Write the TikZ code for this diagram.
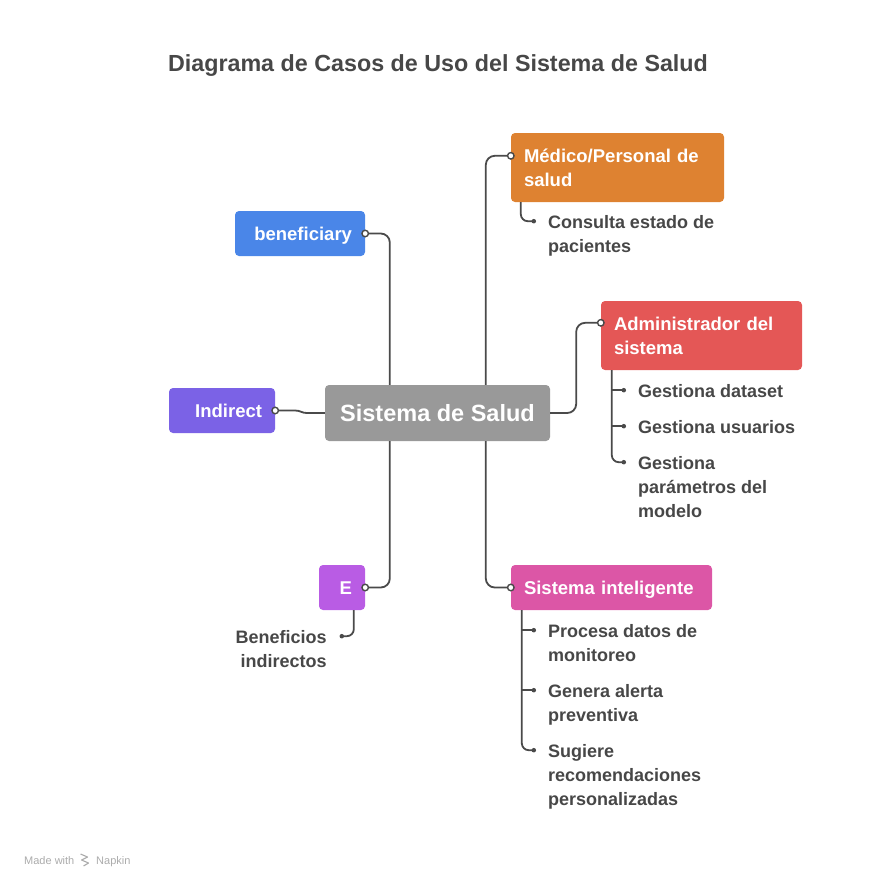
\documentclass[tikz,border=0pt]{standalone}
\usepackage{fontspec}
\setmainfont{Liberation Sans}
\usetikzlibrary{calc,positioning}
\definecolor{txtgray}{HTML}{474747}
\definecolor{linegray}{HTML}{4A4A4A}
\definecolor{footgray}{HTML}{ABABAB}
\definecolor{graybox}{HTML}{999999}
\definecolor{bluebox}{HTML}{4A86E8}
\definecolor{indbox}{HTML}{7B62E6}
\definecolor{ebox}{HTML}{B95CE4}
\definecolor{medbox}{HTML}{DE8231}
\definecolor{admbox}{HTML}{E45756}
\definecolor{intbox}{HTML}{DC56A6}

\begin{document}
\begin{tikzpicture}[x=1pt,y=-1pt,
	box/.style={rounded corners=4pt, text=white, font=\fontsize{18.5}{24}\selectfont\bfseries, inner xsep=13pt, inner ysep=0pt},
	oneline/.style={text height=13pt, text depth=0pt},
	item/.style={text=txtgray, font=\fontsize{18}{24}\selectfont\bfseries, inner sep=0pt},
	link/.style={draw=linegray, line width=1.8pt, rounded corners=9pt},
	port/.style={circle, draw=linegray, fill=white, line width=1.4pt, inner sep=0pt, minimum size=6.5pt},
	dot/.style={circle, fill=linegray, inner sep=0pt, minimum size=4.5pt}]
	\useasboundingbox (0,0) rectangle (876,888);
	
	% Title
	\node[font=\fontsize{23.3}{28}\selectfont\bfseries, text=txtgray] (title) at (438,66) {Diagrama de Casos de Uso del Sistema de Salud};
	
	% Central node
	\node[box, fill=graybox, minimum width=225pt, minimum height=56pt, font=\fontsize{23.5}{28}\selectfont\bfseries] (sys) at (437.5,413) {Sistema de Salud};
	
	% Left actors
	\node[box, oneline, fill=bluebox, minimum height=45pt, text width=104pt, align=right] (benef) at (300,233.5) {beneficiary};
	\node[box, oneline, fill=indbox, minimum height=45pt, text width=80pt, align=right] (ind) at (222,410.5) {Indirect};
	\node[box, oneline, fill=ebox, minimum height=45pt, text width=20pt, align=right] (e) at (342,587.5) {E};
	
	% Right actors
	\node[box, fill=medbox, minimum height=69pt, text width=187pt, align=left] (med) at (617.5,167.5) {M\'edico/Personal de\\salud};
	\node[box, fill=admbox, minimum height=69pt, text width=175pt, align=left] (admin) at (701.5,335.5) {Administrador del\\sistema};
	\node[box, oneline, fill=intbox, minimum height=45pt, text width=175pt, align=left] (intel) at (611.5,587.5) {Sistema inteligente};
	\coordinate (medp) at ($(med.north west)+(0,23)$);
	\coordinate (admp) at ($(admin.north west)+(0,22)$);
	
	% Links from the central node
	\draw[link] (benef.east) -| ($(sys.north west)+(65,0)$);
	\draw[link] (medp) -| ($(sys.north west)+(161,0)$);
	\draw[link, sharp corners] (ind.east) -- ++(20,0) .. controls +(5,0) and +(-5,0) .. ($(sys.west)+(-18,0)$) -- (sys.west);
	\draw[link] (sys.east) -- ++(26,0) |- (admp);
	\draw[link] (e.east) -| ($(sys.south west)+(65,0)$);
	\draw[link] (intel.west) -| ($(sys.south west)+(161,0)$);
	\node[port] at (benef.east) {};
	\node[port] at (medp) {};
	\node[port] at (ind.east) {};
	\node[port] at (admp) {};
	\node[port] at (e.east) {};
	\node[port] at (intel.west) {};
	
	% Medico use cases
	\coordinate (md1) at ($(med.south west)+(23,19)$);
	\node[item, anchor=north west, align=left] (m1) at ($(md1)+(14,-9.8)$) {\strut Consulta estado de\\pacientes};
	\draw[link, rounded corners=7pt] ($(med.south west)+(10,0)$) |- (md1);
	\node[dot] at (md1) {};
	
	% Administrador use cases
	\coordinate (ad1) at ($(admin.south west)+(23,20)$);
	\coordinate (ad2) at ($(admin.south west)+(23,56)$);
	\coordinate (ad3) at ($(admin.south west)+(23,92)$);
	\coordinate (adl) at ($(admin.south west)+(11,0)$);
	\node[item, anchor=north west, align=left] (a1) at ($(ad1)+(14,-9.8)$) {\strut Gestiona dataset};
	\node[item, anchor=north west, align=left] (a2) at ($(ad2)+(14,-9.8)$) {\strut Gestiona usuarios};
	\node[item, anchor=north west, align=left] (a3) at ($(ad3)+(14,-9.8)$) {\strut Gestiona\\par\'ametros del\\modelo};
	\draw[link, rounded corners=7pt] (adl) |- (ad3);
	\draw[link] (adl |- ad1) -- (ad1);
	\draw[link] (adl |- ad2) -- (ad2);
	\foreach \d in {ad1,ad2,ad3} \node[dot] at (\d) {};
	
	% Sistema inteligente use cases
	\coordinate (in1) at ($(intel.south west)+(23,20)$);
	\coordinate (in2) at ($(intel.south west)+(23,80)$);
	\coordinate (in3) at ($(intel.south west)+(23,140)$);
	\coordinate (inl) at ($(intel.south west)+(11,0)$);
	\node[item, anchor=north west, align=left] (i1) at ($(in1)+(14,-9.8)$) {\strut Procesa datos de\\monitoreo};
	\node[item, anchor=north west, align=left] (i2) at ($(in2)+(14,-9.8)$) {\strut Genera alerta\\preventiva};
	\node[item, anchor=north west, align=left] (i3) at ($(in3)+(14,-9.8)$) {\strut Sugiere\\recomendaciones\\personalizadas};
	\draw[link, rounded corners=7pt] (inl) |- (in3);
	\draw[link] (inl |- in1) -- (in1);
	\draw[link] (inl |- in2) -- (in2);
	\foreach \d in {in1,in2,in3} \node[dot] at (\d) {};
	
	% E use case
	\coordinate (ed1) at ($(e.south west)+(23,26)$);
	\node[item, anchor=north east, align=right] (b1) at ($(ed1)+(-15,-9.8)$) {\strut Beneficios\\indirectos};
	\draw[link, rounded corners=7pt] ($(e.south west)+(35,0)$) |- (ed1);
	\node[dot] at (ed1) {};
	
	% Footer
	\node[anchor=base west, inner sep=0pt, text=footgray, font=\fontsize{11}{13}\selectfont] (made) at (24,864) {Made with};
	\node[anchor=base west, inner sep=0pt, text=footgray, font=\fontsize{11}{13}\selectfont] (napkin) at (96,864) {Napkin};
	\draw[footgray, line width=1.1pt, line join=round] ($(made.base east)+(6,-10)$) -- ++(7,3) -- ++(-6,3) -- ++(7,3) -- ++(-5,3);
\end{tikzpicture}
\end{document}
